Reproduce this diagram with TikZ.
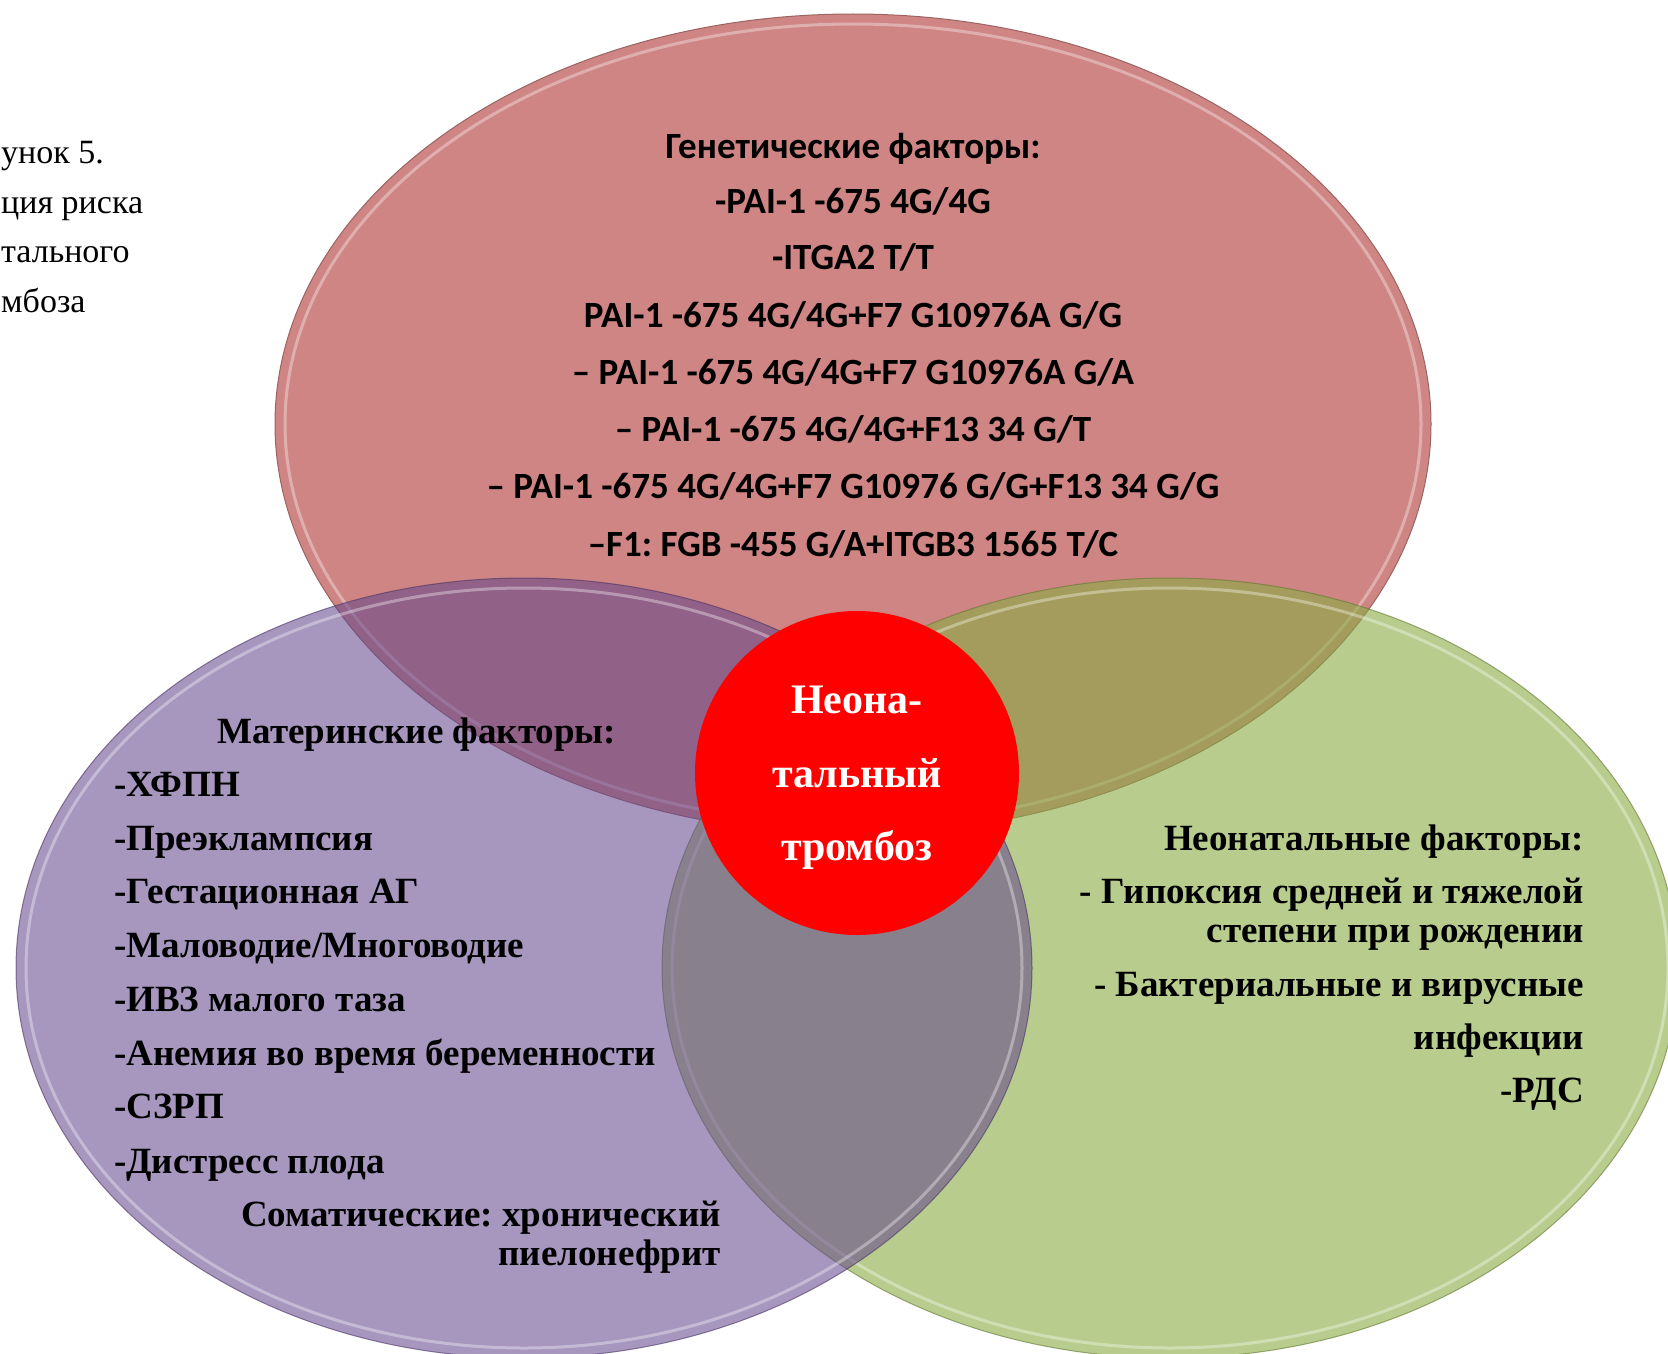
\documentclass[tikz,border=0pt]{standalone}
\usepackage{fontspec}
\setmainfont{Liberation Serif}
\newfontfamily\genefont{Carlito}
\frenchspacing

\definecolor{geneRed}{RGB}{206,133,131}
\definecolor{momPurple}{RGB}{101,71,141}
\definecolor{babyGreen}{RGB}{137,172,66}

\tikzset{
  gene/.style={font=\genefont\bfseries\fontsize{37}{44}\selectfont, anchor=base, inner sep=0pt},
  fact/.style={font=\bfseries\fontsize{37}{42}\selectfont, inner sep=0pt},
  capt/.style={font=\fontsize{34}{40}\selectfont, anchor=base west, inner sep=0pt},
  core/.style={font=\bfseries\fontsize{42}{48}\selectfont, text=white, anchor=base, inner sep=0pt},
  rim/.style={white, opacity=0.35, line width=3pt},
}

\begin{document}
\begin{tikzpicture}[x=1pt,y=-1pt]
	\useasboundingbox (0,0) rectangle (1668,1354);
	\fill[white] (0,0) rectangle (1668,1354);
	\clip (0,0) rectangle (1668,1354);

	\coordinate (G) at (853,424);
	\coordinate (M) at (524,968);
	\coordinate (N) at (1170,968);
	\coordinate (T) at (857,773);

	% three factor groups
	\fill[geneRed] (G) ellipse [x radius=578pt, y radius=410pt];
	\draw[geneRed!75!black, line width=1pt] (G) ellipse [x radius=578pt, y radius=410pt];
	\draw[rim] (G) ellipse [x radius=568pt, y radius=400pt];

	\fill[babyGreen, opacity=0.6] (N) ellipse [x radius=508pt, y radius=390pt];
	\draw[babyGreen!70!black, opacity=0.6, line width=1pt] (N) ellipse [x radius=508pt, y radius=390pt];
	\draw[rim] (N) ellipse [x radius=498pt, y radius=380pt];

	\fill[momPurple, opacity=0.57] (M) ellipse [x radius=508pt, y radius=390pt];
	\draw[momPurple!70!black, opacity=0.6, line width=1pt] (M) ellipse [x radius=508pt, y radius=390pt];
	\draw[rim] (M) ellipse [x radius=498pt, y radius=380pt];

	\fill[red] (T) circle (162pt);

	% caption
	\node[capt] (cap1) at (1,163) {унок 5.};
	\node[capt] (cap2) at (1,213) {ция риска};
	\node[capt] (cap3) at (1,262) {тального};
	\node[capt] (cap4) at (1,312) {мбоза};

	% genetic factors
	\node[gene] (gene0) at (853,158) {Генетические факторы:};
	\node[gene] (gene1) at (853,213) {-PAI-1 -675 4G/4G};
	\node[gene] (gene2) at (853,269) {-ITGA2 T/T};
	\node[gene] (gene3) at (853,327) {PAI-1 -675 4G/4G+F7 G10976A G/G};
	\node[gene] (gene4) at (853,384) {– PAI-1 -675 4G/4G+F7 G10976A G/A};
	\node[gene] (gene5) at (853,441) {– PAI-1 -675 4G/4G+F13 34 G/T};
	\node[gene] (gene6) at (853,498) {– PAI-1 -675 4G/4G+F7 G10976 G/G+F13 34 G/G};
	\node[gene] (gene7) at (853,556) {–F1: FGB -455 G/A+ITGB3 1565 T/C};

	% maternal factors
	\node[fact, anchor=base] (mom0) at (417,743) {Материнские факторы:};
	\node[fact, anchor=base west] (mom1) at (114,796) {-ХФПН};
	\node[fact, anchor=base west] (mom2) at (114,850) {-Преэклампсия};
	\node[fact, anchor=base west] (mom3) at (114,903) {-Гестационная АГ};
	\node[fact, anchor=base west] (mom4) at (114,957) {-Маловодие/Многоводие};
	\node[fact, anchor=base west] (mom5) at (114,1011) {-ИВЗ малого таза};
	\node[fact, anchor=base west] (mom6) at (114,1065) {-Анемия во время беременности};
	\node[fact, anchor=base west] (mom7) at (114,1118) {-СЗРП};
	\node[fact, anchor=base west] (mom8) at (114,1173) {-Дистресс плода};
	\node[fact, anchor=base east] (mom9) at (721,1226) {Соматические: хронический};
	\node[fact, anchor=base east] (mom10) at (721,1265) {пиелонефрит};

	% neonatal factors
	\node[fact, anchor=base east] (baby0) at (1584,850) {Неонатальные факторы:};
	\node[fact, anchor=base east] (baby1) at (1584,903) {- Гипоксия средней и тяжелой};
	\node[fact, anchor=base east] (baby2) at (1584,942) {степени при рождении};
	\node[fact, anchor=base east] (baby3) at (1584,996) {- Бактериальные и вирусные};
	\node[fact, anchor=base east] (baby4) at (1584,1049) {инфекции};
	\node[fact, anchor=base east] (baby5) at (1584,1102) {-РДС};

	% centre
	\node[core] (core1) at (857,713) {Неона-};
	\node[core] (core2) at (857,787) {тальный};
	\node[core] (core3) at (857,860) {тромбоз};
\end{tikzpicture}
\end{document}
